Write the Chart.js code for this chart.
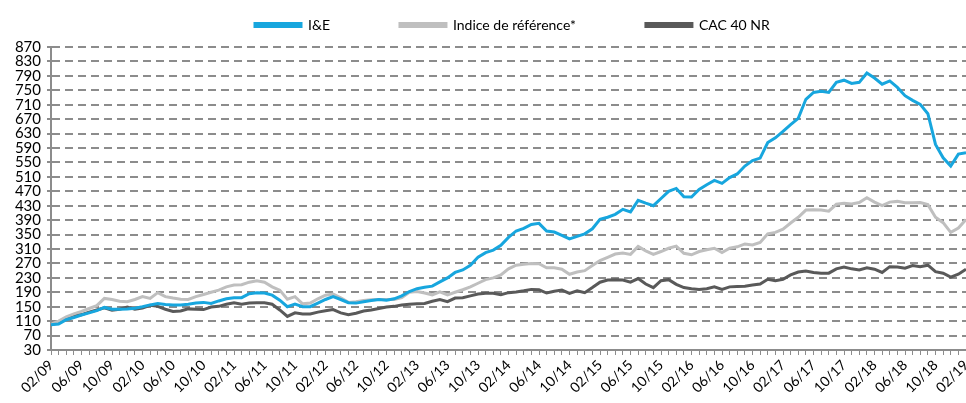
<!DOCTYPE html>
<html>
<head>
<meta charset="utf-8">
<script src="https://cdn.jsdelivr.net/npm/chart.js@4.4.1/dist/chart.umd.min.js"></script>
<style>
  html, body { margin: 0; padding: 0; background: #fff; }
  #wrap { width: 966px; height: 403px; }
</style>
</head>
<body>
<div id="wrap"><canvas id="perfChart"></canvas></div>
<script>
// monthly points, 02/09 -> 02/19
var months = [
  '02/09','03/09','04/09','05/09','06/09','07/09','08/09','09/09','10/09','11/09','12/09',
  '01/10','02/10','03/10','04/10','05/10','06/10','07/10','08/10','09/10','10/10','11/10','12/10',
  '01/11','02/11','03/11','04/11','05/11','06/11','07/11','08/11','09/11','10/11','11/11','12/11',
  '01/12','02/12','03/12','04/12','05/12','06/12','07/12','08/12','09/12','10/12','11/12','12/12',
  '01/13','02/13','03/13','04/13','05/13','06/13','07/13','08/13','09/13','10/13','11/13','12/13',
  '01/14','02/14','03/14','04/14','05/14','06/14','07/14','08/14','09/14','10/14','11/14','12/14',
  '01/15','02/15','03/15','04/15','05/15','06/15','07/15','08/15','09/15','10/15','11/15','12/15',
  '01/16','02/16','03/16','04/16','05/16','06/16','07/16','08/16','09/16','10/16','11/16','12/16',
  '01/17','02/17','03/17','04/17','05/17','06/17','07/17','08/17','09/17','10/17','11/17','12/17',
  '01/18','02/18','03/18','04/18','05/18','06/18','07/18','08/18','09/18','10/18','11/18','12/18',
  '01/19','02/19'
];

// labels shown under the axis (every 4 months)
var tickLabels = ['02/09','06/09','10/09','02/10','06/10','10/10','02/11','06/11','10/11',
  '02/12','06/12','10/12','02/13','06/13','10/13','02/14','06/14','10/14','02/15','06/15',
  '10/15','02/16','06/16','10/16','02/17','06/17','10/17','02/18','06/18','10/18','02/19'];

var ieValues = [
  100,102,114,120,127,133,139,148,143,143,
  144,146,150,155,159,156,155,155,157,160,
  162,159,166,172,175,175,186,189,188,182,
  168,150,157,150,150,160,170,178,170,161,
  160,164,167,170,168,172,180,192,200,204,
  207,219,230,245,252,265,287,300,307,320,
  342,360,367,378,381,360,357,348,338,345,
  352,366,392,398,406,420,413,445,437,430,
  450,470,478,455,454,475,488,500,492,508,
  518,540,555,562,605,618,636,655,672,725,
  744,747,744,772,778,769,772,798,784,767,
  776,758,735,722,711,685,600,563,540,573,577
];

var refValues = [
  102,110,122,130,137,145,153,173,170,165,
  164,170,178,173,189,178,174,171,170,178,
  184,190,196,205,210,211,218,222,218,205,
  196,171,178,158,160,172,182,185,175,162,
  164,167,169,170,170,170,175,190,192,188,
  183,191,183,190,197,205,215,225,230,238,
  255,265,268,270,269,258,258,254,240,246,
  250,264,278,287,296,299,295,317,305,295,
  303,312,318,298,294,303,308,312,300,312,
  316,324,321,328,352,356,365,382,398,418,
  419,418,415,434,437,435,439,452,440,430,
  440,442,438,438,439,433,398,383,356,368,392
];

var cacValues = [
  102,104,118,128,128,135,141,147,140,143,
  149,143,146,154,151,143,137,138,144,143,
  142,149,151,157,161,157,160,161,161,157,
  141,123,133,130,130,135,139,142,133,128,
  132,138,141,145,149,151,155,157,158,159,
  165,170,164,174,175,180,185,187,187,183,
  189,191,194,198,197,188,193,196,187,194,
  189,203,218,224,225,224,218,228,213,203,
  222,225,212,203,200,198,200,205,198,205,
  206,207,210,213,226,222,226,238,246,249,
  245,243,243,255,260,255,252,258,254,245,
  261,260,257,264,261,265,247,243,232,240,254
];

var fontFamily = "'Lato', 'Noto Sans', sans-serif";
var legendPad = 70;

// legend sits left of centre in the original, move it after layout
// (v4 clips the legend to its own box, so top is pulled up by the padding)
var legendPlacement = {
  id: 'legendPlacement',
  beforeInit: function(chart) {
    var origFit = chart.legend.fit;
    chart.legend.fit = function() {
      origFit.bind(chart.legend)();
      this.height = 47;
    };
  },
  afterLayout: function(chart) {
    var lg = chart.legend;
    lg.left = 255 - legendPad;
    lg.top = 18 - legendPad;
    lg.right = 966;
    lg.bottom = 44;
  }
};

function line(label, data, color) {
  return {
    label: label,
    data: data,
    borderColor: color,
    backgroundColor: color,
    borderWidth: 3,
    pointRadius: 0,
    tension: 0,
    fill: false
  };
}

var ctx = document.getElementById('perfChart').getContext('2d');
var chart = new Chart(ctx, {
  type: 'line',
  data: {
    labels: months,
    datasets: [
      line('I&E', ieValues, '#17a6de'),
      line('Indice de référence*', refValues, '#bfbfbf'),
      line('CAC 40 NR', cacValues, '#595959')
    ]
  },
  options: {
    responsive: true,
    maintainAspectRatio: false,
    animation: false,
    layout: { padding: 0 },
    plugins: {
      tooltip: { enabled: false },
      legend: {
        position: 'top',
        align: 'start',
        labels: {
          boxWidth: 46,
          boxHeight: 3,
          padding: legendPad,
          color: '#000',
          font: { family: fontFamily, size: 14 }
        }
      }
    },
    scales: {
      x: {
        offset: false,
        grid: {
          drawOnChartArea: false,
          drawTicks: true,
          tickLength: 5,
          color: '#8c8c8c'
        },
        border: { color: '#8c8c8c', width: 2 },
        ticks: {
          autoSkip: false,
          maxRotation: 45,
          minRotation: 45,
          padding: 2,
          color: '#000',
          font: { family: fontFamily, size: 14 },
          callback: function(val, i) {
            var lab = months[i];
            return tickLabels.indexOf(lab) >= 0 ? lab : '';
          }
        },
        afterFit: function(scale) {
          scale.height = 53;
          scale.paddingRight = 0;
        }
      },
      y: {
        min: 30,
        max: 870,
        grid: {
          color: '#8c8c8c',
          lineWidth: 2,
          tickLength: 4
        },
        border: { color: '#8c8c8c', width: 2, dash: [8, 5] },
        ticks: {
          stepSize: 40,
          autoSkip: false,
          padding: 6,
          color: '#000',
          font: { family: fontFamily, size: 15 }
        },
        afterFit: function(scale) {
          scale.width = 51;
        }
      }
    }
  },
  plugins: [legendPlacement]
});
</script>
</body>
</html>
